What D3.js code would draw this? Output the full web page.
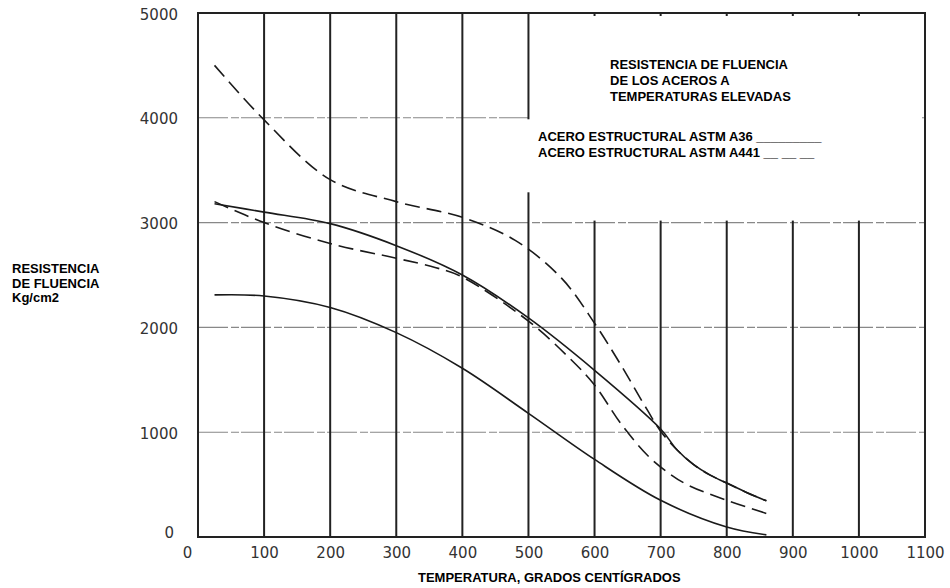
<!DOCTYPE html>
<html>
<head>
<meta charset="utf-8">
<script src="https://cdn.jsdelivr.net/npm/d3@7"></script>
<style>
  body { margin: 0; background: #fff; }
  svg { display: block; }
  .tick-lbl text { font-family: "DejaVu Sans", sans-serif; font-size: 15px; fill: #333; }
  .lbl { font-family: "Liberation Sans", Arial, sans-serif; font-size: 13px; font-weight: bold; fill: #000; }
</style>
</head>
<body>
<svg id="chart" width="950" height="588"></svg>
<script>
// temperatures (C) and yield strength (Kg/cm2)
const tempsA36Upper = [25, 100, 200, 300, 400, 500, 600, 700, 725, 750, 775, 800, 830, 860];
const yieldA36Upper = [3180, 3100, 2990, 2780, 2500, 2090, 1590, 1030, 830, 690, 590, 515, 425, 345];

const tempsA36Lower = [25, 100, 200, 300, 400, 500, 600, 700, 800, 860];
const yieldA36Lower = [2310, 2300, 2190, 1950, 1610, 1180, 740, 350, 95, 20];

const tempsA441Upper = [25, 100, 200, 300, 400, 480, 550, 600, 640, 680, 700, 725, 750, 775, 800, 830, 860];
const yieldA441Upper = [4500, 3980, 3410, 3200, 3050, 2830, 2470, 2040, 1640, 1210, 1010, 830, 690, 590, 515, 425, 345];

const tempsA441Lower = [25, 100, 200, 300, 360, 400, 500, 560, 600, 640, 680, 710, 740, 800, 865];
const yieldA441Lower = [3200, 3000, 2800, 2660, 2570, 2480, 2060, 1720, 1450, 1080, 780, 620, 500, 350, 215];

const xTicks = [0, 100, 200, 300, 400, 500, 600, 700, 800, 900, 1000, 1100];
const yTicks = [0, 1000, 2000, 3000, 4000, 5000];

const titleLines = ['RESISTENCIA DE FLUENCIA', 'DE LOS ACEROS A', 'TEMPERATURAS ELEVADAS'];
const legendLines = ['ACERO ESTRUCTURAL ASTM A36 _________', 'ACERO ESTRUCTURAL ASTM A441 __   __   __'];
const yTitleLines = ['RESISTENCIA', 'DE FLUENCIA', 'Kg/cm2'];
const xTitle = 'TEMPERATURA, GRADOS CENTÍGRADOS';

const svg = d3.select('#chart');
const margin = {top: 13, right: 25, bottom: 51, left: 198};
const width = 950, height = 588;

const x = d3.scaleLinear().domain([0, 1100]).range([margin.left, width - margin.right]);
const y = d3.scaleLinear().domain([0, 5000]).range([height - margin.bottom, margin.top]);

// horizontal grid (light, scanned look)
svg.append('g').selectAll('line')
    .data(yTicks.filter(d => d > 0 && d < 5000))
    .enter().append('line')
    .attr('x1', x(0)).attr('x2', x(1100))
    .attr('y1', d => y(d)).attr('y2', d => y(d))
    .attr('stroke', '#888').attr('stroke-width', 1.1)
    .attr('stroke-dasharray', '30,3,8,2');

// vertical grid (dark)
svg.append('g').selectAll('line')
    .data(xTicks.filter(d => d > 0 && d < 1100))
    .enter().append('line')
    .attr('x1', d => x(d)).attr('x2', d => x(d))
    .attr('y1', y(5000)).attr('y2', y(0))
    .attr('stroke', '#222').attr('stroke-width', 2);

// frame
svg.append('rect')
    .attr('x', x(0)).attr('y', y(5000))
    .attr('width', x(1100) - x(0)).attr('height', y(0) - y(5000))
    .attr('fill', 'none').attr('stroke', '#222').attr('stroke-width', 2);

// white patch where the legend was pasted over the grid
svg.append('rect').attr('x', x(500) + 3).attr('y', y(5000) + 3)
    .attr('width', x(1100) - x(500) - 6).attr('height', y(3000) - y(5000) - 5)
    .attr('fill', '#fff');
svg.append('rect').attr('x', x(475)).attr('y', y(4000) + 1.5)
    .attr('width', x(500) - x(475) + 4).attr('height', 73)
    .attr('fill', '#fff');

// curves
const line = d3.line()
    .x(d => x(d[0]))
    .y(d => y(d[1]))
    .curve(d3.curveCatmullRom.alpha(0.5));

const series = [
    {t: tempsA36Upper, v: yieldA36Upper, dash: null},
    {t: tempsA36Lower, v: yieldA36Lower, dash: null},
    {t: tempsA441Upper, v: yieldA441Upper, dash: '15,7'},
    {t: tempsA441Lower, v: yieldA441Lower, dash: '15,7'}
];

svg.append('g').selectAll('path')
    .data(series)
    .enter().append('path')
    .attr('d', s => line(d3.zip(s.t, s.v)))
    .attr('fill', 'none')
    .attr('stroke', '#1a1a1a')
    .attr('stroke-width', 1.6)
    .attr('stroke-dasharray', s => s.dash);

// axes labels
const xAxis = d3.axisBottom(x).tickValues(xTicks).tickFormat(d3.format('d')).tickSize(0).tickPadding(10);
svg.append('g')
    .attr('class', 'tick-lbl')
    .attr('transform', `translate(0, ${y(0)})`)
    .call(xAxis)
    .call(g => g.select('.domain').remove())
    .selectAll('text')
    .attr('dx', d => d === 0 ? -11 : 0);

const yAxis = d3.axisLeft(y).tickValues(yTicks).tickFormat(d3.format('d')).tickSize(0).tickPadding(20);
svg.append('g')
    .attr('class', 'tick-lbl')
    .attr('transform', `translate(${x(0)}, 0)`)
    .call(yAxis)
    .call(g => g.select('.domain').remove())
    .selectAll('text')
    .attr('dy', d => d === 0 ? '0.05em' : '0.4em')
    .attr('dx', d => d === 0 ? -4 : 0);

// titles
svg.append('g').selectAll('text')
    .data(yTitleLines)
    .enter().append('text')
    .attr('class', 'lbl')
    .attr('x', 12)
    .attr('y', (d, i) => 273 + i * 14.5)
    .text(d => d);

svg.append('text')
    .attr('class', 'lbl')
    .attr('x', 418).attr('y', 582)
    .text(xTitle);

svg.append('g').selectAll('text')
    .data(titleLines)
    .enter().append('text')
    .attr('class', 'lbl')
    .attr('x', 610)
    .attr('y', (d, i) => 69 + i * 16)
    .text(d => d);

svg.append('g').selectAll('text')
    .data(legendLines)
    .enter().append('text')
    .attr('class', 'lbl')
    .attr('x', 538)
    .attr('y', (d, i) => 141 + i * 16)
    .text(d => d);
</script>
</body>
</html>
